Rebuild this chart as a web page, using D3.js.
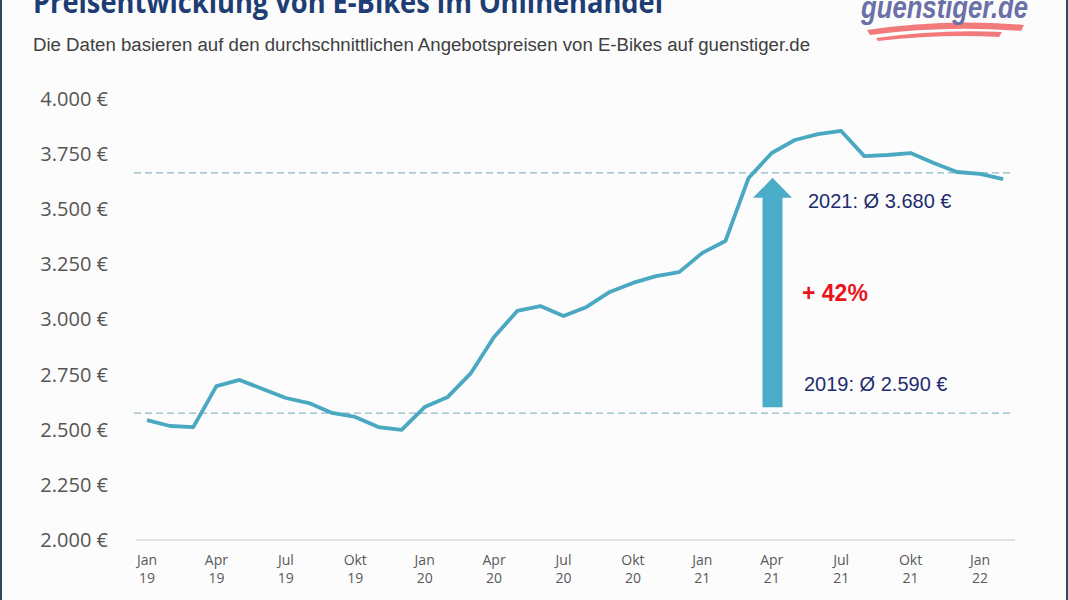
<!DOCTYPE html>
<html>
<head>
<meta charset="utf-8">
<script src="https://cdn.jsdelivr.net/npm/d3@7"></script>
<style>
  html, body { margin: 0; padding: 0; background: #fcfcfd; }
  svg { display: block; }
</style>
</head>
<body>
<div id="chart_div"></div>
<script>
// Monatliche Durchschnittspreise Jan 2019 - Feb 2022
const months = ["Jan 19","Feb 19","Mrz 19","Apr 19","Mai 19","Jun 19","Jul 19","Aug 19","Sep 19","Okt 19","Nov 19","Dez 19",
  "Jan 20","Feb 20","Mrz 20","Apr 20","Mai 20","Jun 20","Jul 20","Aug 20","Sep 20","Okt 20","Nov 20","Dez 20",
  "Jan 21","Feb 21","Mrz 21","Apr 21","Mai 21","Jun 21","Jul 21","Aug 21","Sep 21","Okt 21","Nov 21","Dez 21",
  "Jan 22","Feb 22"];
const prices = [2544, 2517, 2512, 2698, 2726, 2685, 2644, 2621, 2576, 2558, 2512, 2499,
  2603, 2649, 2757, 2921, 3039, 3061, 3016, 3057, 3125, 3166, 3197, 3215,
  3302, 3356, 3642, 3755, 3814, 3841, 3855, 3741, 3746, 3755, 3710, 3669,
  3660, 3637];
const yTicks = [2000, 2250, 2500, 2750, 3000, 3250, 3500, 3750, 4000];
const xTickIdx = [0, 3, 6, 9, 12, 15, 18, 21, 24, 27, 30, 33, 36];
const xTickLabels = [["Jan","19"],["Apr","19"],["Jul","19"],["Okt","19"],["Jan","20"],["Apr","20"],["Jul","20"],["Okt","20"],
  ["Jan","21"],["Apr","21"],["Jul","21"],["Okt","21"],["Jan","22"]];
// Durchschnittslinien (2019, 2021) wie im Bild
const avgLines = [2575, 3665];
const avgLabels = ["2019: Ø 2.590 €", "2021: Ø 3.680 €"];
const growthLabel = "+ 42%";

const width = 1068;
const height = 600;

const svg = d3.select("#chart_div")
  .append("svg")
  .attr("width", width)
  .attr("height", height);

svg.append("rect").attr("width", width).attr("height", height).attr("fill", "#fcfcfd");

// Rahmen links/rechts
svg.append("rect").attr("x", 0).attr("y", 0).attr("width", 2).attr("height", height).attr("fill", "#34465a");
svg.append("rect").attr("x", 1066).attr("y", 0).attr("width", 2).attr("height", height).attr("fill", "#34465a");

// Scales
const x = d3.scaleLinear()
  .domain([0, 36])
  .range([147, 980]);

const y = d3.scaleLinear()
  .domain([2000, 4000])
  .range([540, 99]);

const fmt = d3.formatLocale({ decimal: ",", thousands: ".", grouping: [3], currency: ["", " €"] });

// Header
svg.append("text")
  .attr("x", 33)
  .attr("y", 13)
  .attr("font-family", "Liberation Sans Narrow, Open Sans, Arial, sans-serif")
  .attr("font-weight", "bold")
  .attr("font-size", 30)
  .attr("fill", "#1d3d74")
  .attr("textLength", 630)
  .attr("lengthAdjust", "spacingAndGlyphs")
  .text("Preisentwicklung von E-Bikes im Onlinehandel");

svg.append("text")
  .attr("x", 33)
  .attr("y", 51)
  .attr("font-family", "Liberation Sans Narrow, Arial, sans-serif")
  .attr("font-size", 18)
  .attr("fill", "#404040")
  .attr("textLength", 777)
  .attr("lengthAdjust", "spacingAndGlyphs")
  .text("Die Daten basieren auf den durchschnittlichen Angebotspreisen von E-Bikes auf guenstiger.de");

// Logo
const logo = svg.append("g").attr("class", "logo");
logo.append("path")
  .attr("d", "M867,30 Q945,18 1024,25 L1021,31 Q945,25 870,35 Z")
  .attr("fill", "#f27a7a");
logo.append("path")
  .attr("d", "M876,38 Q940,29 1002,32 L999,37 Q940,34 878,41 Z")
  .attr("fill", "#f27a7a");
logo.append("text")
  .attr("x", 861)
  .attr("y", 18)
  .attr("font-family", "Liberation Sans, Arial, sans-serif")
  .attr("font-weight", "bold")
  .attr("font-style", "italic")
  .attr("font-size", 31)
  .attr("fill", "#6b70a8")
  .attr("textLength", 167)
  .attr("lengthAdjust", "spacingAndGlyphs")
  .text("guenstiger.de");

// Axes
const yAxis = (g) => g.append("g")
  .attr("id", "y-axis")
  .attr("transform", `translate(108,0)`)
  .call(d3.axisLeft(y).tickValues(yTicks).tickSize(0).tickPadding(0).tickFormat(d => fmt.format("$,.0f")(d)))
  .call(g => g.select(".domain").remove())
  .call(g => g.selectAll("text")
    .attr("font-family", "Open Sans, DejaVu Sans, sans-serif")
    .attr("font-size", 20)
    .attr("fill", "#555"));

const xAxis = (g) => {
  const ax = g.append("g").attr("id", "x-axis");
  ax.append("line")
    .attr("x1", 136).attr("x2", 1015)
    .attr("y1", y(2000)).attr("y2", y(2000))
    .attr("stroke", "#d9d9d9").attr("stroke-width", 1.5);
  const t = ax.selectAll("text")
    .data(xTickIdx)
    .enter()
    .append("text")
    .attr("x", d => x(d))
    .attr("y", 565)
    .attr("text-anchor", "middle")
    .attr("font-family", "Liberation Sans Narrow, Open Sans, sans-serif")
    .attr("font-size", 14)
    .attr("fill", "#595959");
  t.append("tspan").attr("x", d => x(d)).text((d, i) => xTickLabels[i][0]);
  t.append("tspan").attr("x", d => x(d)).attr("dy", 18).text((d, i) => xTickLabels[i][1]);
};

svg.call(yAxis);
svg.call(xAxis);

// Durchschnitt (gestrichelt)
svg.append("g")
  .selectAll("line")
  .data(avgLines)
  .enter()
  .append("line")
  .attr("x1", 134)
  .attr("x2", 1010)
  .attr("y1", d => y(d))
  .attr("y2", d => y(d))
  .attr("stroke", "#8fb8c8")
  .attr("stroke-width", 1.2)
  .attr("stroke-dasharray", "7,4");

// Linie
const line = d3.line()
  .x((d, i) => x(i))
  .y(d => y(d));

svg.append("path")
  .datum(prices)
  .attr("d", line)
  .attr("fill", "none")
  .attr("stroke", "#4aa8c0")
  .attr("stroke-width", 3.8)
  .attr("stroke-linejoin", "round");

// Pfeil
const ax0 = 772.5;
const yBottom = y(avgLines[0]) - 6;
const yTip = y(avgLines[1]) + 5;
const shaftW = 20, headW = 39, headH = 20;
svg.append("path")
  .attr("d", `M${ax0 - shaftW / 2},${yBottom} L${ax0 - shaftW / 2},${yTip + headH} L${ax0 - headW / 2},${yTip + headH}
    L${ax0},${yTip} L${ax0 + headW / 2},${yTip + headH} L${ax0 + shaftW / 2},${yTip + headH} L${ax0 + shaftW / 2},${yBottom} Z`)
  .attr("fill", "#4aacc6");

// Beschriftungen
svg.append("text")
  .attr("x", 808).attr("y", 208)
  .attr("font-family", "Liberation Sans, Arial, sans-serif")
  .attr("font-size", 20)
  .attr("fill", "#1f2d6e")
  .text(avgLabels[1]);

svg.append("text")
  .attr("x", 804).attr("y", 391)
  .attr("font-family", "Liberation Sans, Arial, sans-serif")
  .attr("font-size", 20)
  .attr("fill", "#1f2d6e")
  .text(avgLabels[0]);

svg.append("text")
  .attr("x", 802).attr("y", 301)
  .attr("font-family", "Liberation Sans, Arial, sans-serif")
  .attr("font-size", 23)
  .attr("font-weight", "bold")
  .attr("fill", "#e8141c")
  .text(growthLabel);
</script>
</body>
</html>
